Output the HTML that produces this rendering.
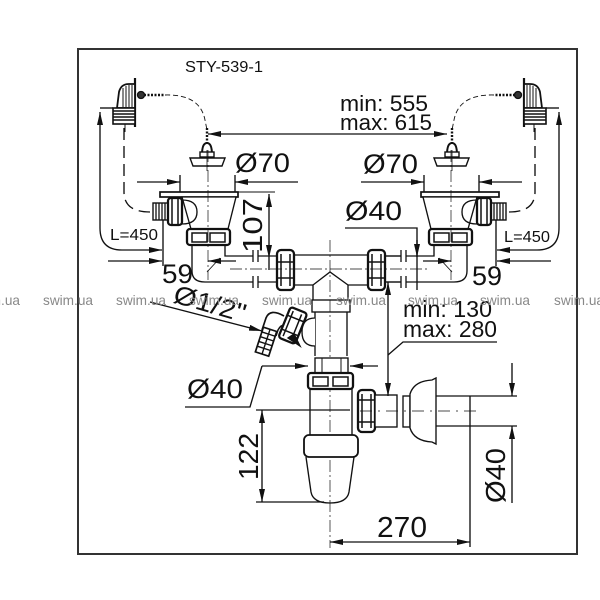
<!DOCTYPE html>
<html><head><meta charset="utf-8"><style>
html,body{margin:0;padding:0;background:#fff;width:600px;height:600px;overflow:hidden}
svg{position:absolute;left:0;top:0}
text{font-family:"Liberation Sans",Arial,sans-serif;fill:#111}
</style></head><body>
<svg width="600" height="600" viewBox="0 0 600 600" xmlns="http://www.w3.org/2000/svg">
<defs>
<marker id="a" viewBox="0 0 13 6" refX="13" refY="3" markerWidth="13" markerHeight="6" markerUnits="userSpaceOnUse" orient="auto-start-reverse"><path d="M0,0 L13,3 L0,6 z" fill="#111"/></marker>
<g id="L" fill="none" stroke="#111" stroke-width="1.35">
 <!-- overflow -->
 <line x1="135" y1="78" x2="135" y2="127" stroke-width="2.2"/>
 <path d="M117,108 L119,92 Q121,84 129,84 L135,84 L135,108 Z" fill="#fff" stroke-width="1.8"/>
 <path d="M123,88 V107 M126,86 V107 M129,85 V107 M132,85 V107" stroke-width="1"/>
 <rect x="113" y="108" width="22" height="16" fill="#fff" stroke-width="1.6"/>
 <path d="M113,111 H135 M113,114 H135 M113,117 H135 M113,120 H135" stroke-width="1.5"/>
 <line x1="100" y1="108" x2="113" y2="108"/>
 <line x1="125" y1="124" x2="125" y2="132" stroke-width="1"/>
 <circle cx="141" cy="95" r="3.5" fill="#333"/>
 <line x1="144" y1="95" x2="165" y2="95" stroke-width="2.6" stroke-dasharray="2,1.5"/>
 <path d="M165,95 Q200,94 205,120 L207,130" stroke-width="0.9" stroke-dasharray="5,3"/>
 <line x1="207" y1="128" x2="207" y2="143" stroke-width="2.4" stroke-dasharray="2,1.5"/>
 <path d="M202,155 Q202,143 207,143 Q212,143 212,155" stroke-width="2"/>
 <rect x="200" y="152" width="14" height="5" fill="#fff" stroke-width="1.4"/>
 <path d="M190,158 L225,158 L222,166 L193,166 Z" fill="#fff" stroke-width="1.4"/>
 <line x1="207" y1="150" x2="207" y2="171" stroke-width="0.8"/>
 <!-- overflow hose -->
 <path d="M124,128 L124,192 Q124,212 150,212" stroke-dasharray="12,6"/>
 <!-- L=450 -->
 <path d="M100,112 L100,228 Q100,250 122,250 L162,250" marker-start="url(#a)" marker-end="url(#a)"/>
 <!-- 59 -->
 <line x1="108" y1="261" x2="162" y2="261" marker-end="url(#a)"/>
 <line x1="163" y1="212" x2="163" y2="266"/>
 <line x1="236" y1="261" x2="208" y2="261" marker-end="url(#a)"/>
 <!-- Ø70 -->
 <line x1="137" y1="182" x2="180" y2="182" marker-end="url(#a)"/>
 <line x1="298" y1="182" x2="235" y2="182" marker-end="url(#a)"/>
 <line x1="180" y1="175" x2="180" y2="193"/>
 <line x1="235" y1="175" x2="235" y2="193"/>
 <!-- strainer -->
 <rect x="160" y="192" width="78" height="5" fill="#fff" stroke-width="1.7"/>
 <path d="M182,197 L236,197 L228,229 L191,229 Z" fill="#fff"/>
 <path d="M182,200 Q197,200 197,212 Q197,224 182,224"/>
 <rect x="153" y="203" width="15" height="17" fill="#fff" stroke-width="1.4"/>
 <path d="M156,203 V220 M159,203 V220 M162,203 V220 M165,203 V220" stroke-width="1.3"/>
 <rect x="168" y="198" width="14" height="27" rx="3" fill="#fff" stroke-width="2.3"/>
 <path d="M172,199 V224 M178,199 V224" stroke-width="1.5"/>
 <rect x="187" y="229" width="43" height="16" rx="3" fill="#fff" stroke-width="2.3"/>
 <path d="M192,233 H207 V242 H192 Z M210,233 H225 V242 H210 Z" stroke-width="1.5"/>
 <!-- drain elbow -->
 <path d="M192,245 L192,271 Q192,282 205,282 L253,282"/>
 <path d="M225,245 L225,256 L253,256"/>
 <path d="M208,150 V280" stroke-width="0.7" stroke-dasharray="12,3,2,3"/>
 <path d="M220,258 L207,272" stroke-width="0.9"/>
 <!-- break marks -->
 <path d="M253,250 V262 M258,250 V262 M253,276 V288 M258,276 V288" stroke-width="1.3"/>
 <path d="M258,256 H277 M258,282 H277"/>
</g>
</defs>

<rect x="78" y="49" width="499" height="505" fill="none" stroke="#333" stroke-width="2"/>

<use href="#L"/>
<use href="#L" transform="translate(659,0) scale(-1,1)"/>

<g fill="none" stroke="#111" stroke-width="1.35">
 <!-- min/max 555 line -->
 <line x1="208" y1="134" x2="447" y2="134" marker-start="url(#a)" marker-end="url(#a)"/>
 <!-- 107 -->
 <line x1="160" y1="192" x2="275" y2="192" stroke-width="0.9"/>
 <line x1="269" y1="194" x2="269" y2="258" marker-start="url(#a)" marker-end="url(#a)"/>
 <line x1="269" y1="258" x2="269" y2="270"/>
 <!-- right Ø40 leader -->
 <path d="M345,228 H417 V290"/>
 <line x1="417" y1="240" x2="417" y2="257" marker-end="url(#a)"/>
 <!-- tee -->
 <path d="M294,255 H368 M294,285 H313 M348,285 H368"/>
 <path d="M313,285 L330,272 L348,285 M313,285 V300 M348,285 V300"/>
 <rect x="312" y="300" width="38" height="12" fill="#fff"/>
 <path d="M315,312 V356 M347,312 V356"/>
 <path d="M315,318 Q302,318 302,332 Q302,346 315,346" fill="#fff"/>
 <rect x="277" y="250" width="17" height="40" rx="4" fill="#fff" stroke-width="2.3"/>
 <path d="M281,254 V286 M290,254 V286 M277,262 H294 M277,278 H294" stroke-width="1.5"/>
 <rect x="368" y="250" width="17" height="40" rx="4" fill="#fff" stroke-width="2.3"/>
 <path d="M372,254 V286 M381,254 V286 M368,262 H385 M368,278 H385" stroke-width="1.5"/>
 <path d="M385,256 H401 M385,282 H401"/>
 <path d="M230,269 H430" stroke-width="0.7" stroke-dasharray="12,3,2,3"/>
 <path d="M330,240 V548" stroke-width="0.7" stroke-dasharray="12,3,2,3"/>
 <!-- hose fitting -->
 <path d="M284,316 Q270,308 266,318 L262,330" stroke-width="1.7" fill="#fff"/>
 <path d="M292,326 Q282,322 278,330 L276,336" stroke-width="1.5"/>
 <g transform="rotate(18,267,342)">
  <rect x="259" y="329" width="14" height="26" fill="#fff" stroke-width="1.7"/>
  <path d="M259,334 H273 M259,339 H273 M259,344 H273 M259,349 H273 M266,329 V355" stroke-width="1.4"/>
 </g>
 <g transform="rotate(22,293,325)">
  <rect x="284" y="309" width="18" height="33" rx="3" fill="#fff" stroke-width="2.3"/>
  <path d="M288,312 V339 M297,312 V339 M284,318 H302 M284,333 H302" stroke-width="1.5"/>
 </g>
 <path d="M288,338 L300,346 L294,334 Z" fill="#111"/>
 <!-- siphon -->
 <rect x="315" y="358" width="33" height="15" fill="#fff"/>
 <path d="M322,358 V373 M341,358 V373" stroke-width="1"/>
 <rect x="308" y="373" width="45" height="16" rx="3" fill="#fff" stroke-width="2.3"/>
 <path d="M313,377 H328 V386 H313 Z M333,377 H348 V386 H333 Z" stroke-width="1.5"/>
 <path d="M310,389 L310,435 M352,389 L352,435"/>
 <rect x="304" y="435" width="54" height="22" rx="5" fill="#fff" stroke-width="1.8"/>
 <path d="M306,457 L311,492 Q313,503 330,503 Q347,503 349,492 L354,457"/>
 <rect x="358" y="390" width="17" height="42" rx="4" fill="#fff" stroke-width="2.3"/>
 <path d="M362,394 V428 M371,394 V428 M358,400 H375 M358,422 H375" stroke-width="1.5"/>
 <rect x="375" y="395" width="22" height="32" fill="#fff"/>
 <rect x="403" y="396" width="7" height="31" fill="#fff"/>
 <path d="M410,394 Q414,381 432,380 L436,378 L436,444 L432,442 Q414,441 410,428 Z" fill="#fff"/>
 <path d="M436,396 H517 M436,426 H517"/>
 <path d="M360,411 H480" stroke-width="0.7" stroke-dasharray="12,6,2,6"/>
 <!-- Ø40 left leader -->
 <path d="M185,407 H250 L262,366"/>
 <line x1="262" y1="366" x2="308" y2="366" marker-end="url(#a)"/>
 <line x1="378" y1="366" x2="350" y2="366" marker-end="url(#a)"/>
 <!-- 122 -->
 <path d="M256,410 H350 M256,502 H324"/>
 <line x1="262" y1="410" x2="262" y2="502" marker-start="url(#a)" marker-end="url(#a)"/>
 <!-- min 130 -->
 <line x1="388" y1="282" x2="388" y2="396" marker-start="url(#a)" marker-end="url(#a)"/>
 <path d="M388,355 L403,342 H497"/>
 <!-- right Ø40 -->
 <path d="M470,396 V547"/>
 <line x1="512" y1="363" x2="512" y2="396" marker-end="url(#a)"/>
 <line x1="512" y1="503" x2="512" y2="426" marker-end="url(#a)"/>
 <!-- 270 -->
 <line x1="330" y1="542" x2="470" y2="542" marker-start="url(#a)" marker-end="url(#a)"/>
 <!-- Ø1/2 leader -->
 <line x1="150" y1="302" x2="262" y2="331" marker-end="url(#a)"/>
</g>

<!-- labels -->
<text x="185" y="72" font-size="16" textLength="78" lengthAdjust="spacingAndGlyphs">STY-539-1</text>
<text x="340" y="111" font-size="22" textLength="88" lengthAdjust="spacingAndGlyphs">min: 555</text>
<text x="340" y="130" font-size="22" textLength="92" lengthAdjust="spacingAndGlyphs">max: 615</text>
<text x="235" y="172" font-size="27" textLength="55" lengthAdjust="spacingAndGlyphs">Ø70</text>
<text x="363" y="173" font-size="27" textLength="55" lengthAdjust="spacingAndGlyphs">Ø70</text>
<text x="345" y="220" font-size="27" textLength="57" lengthAdjust="spacingAndGlyphs">Ø40</text>
<text transform="translate(262,253) rotate(-90)" font-size="28" textLength="55" lengthAdjust="spacingAndGlyphs">107</text>
<text x="110" y="240" font-size="16" textLength="48" lengthAdjust="spacingAndGlyphs">L=450</text>
<text x="504" y="242" font-size="16" textLength="46" lengthAdjust="spacingAndGlyphs">L=450</text>
<text x="162" y="283" font-size="27" textLength="31" lengthAdjust="spacingAndGlyphs">59</text>
<text x="472" y="285" font-size="27" textLength="30" lengthAdjust="spacingAndGlyphs">59</text>
<text transform="translate(172,302) rotate(16)" font-size="26" textLength="74" lengthAdjust="spacingAndGlyphs">Ø1/2"</text>
<text x="187" y="398" font-size="27" textLength="56" lengthAdjust="spacingAndGlyphs">Ø40</text>
<text transform="translate(258,480) rotate(-90)" font-size="28" textLength="47" lengthAdjust="spacingAndGlyphs">122</text>
<text x="403" y="317" font-size="23" textLength="89" lengthAdjust="spacingAndGlyphs">min: 130</text>
<text x="403" y="337" font-size="23" textLength="94" lengthAdjust="spacingAndGlyphs">max: 280</text>
<text x="377" y="537" font-size="29" textLength="50" lengthAdjust="spacingAndGlyphs">270</text>
<text transform="translate(505,503) rotate(-90)" font-size="28" textLength="55" lengthAdjust="spacingAndGlyphs">Ø40</text>

<!-- watermark -->
<g font-size="14">
<text x="-30" y="305" style="fill:#888" textLength="50" lengthAdjust="spacingAndGlyphs">swim.ua</text>
<text x="43" y="305" style="fill:#888" textLength="50" lengthAdjust="spacingAndGlyphs">swim.ua</text>
<text x="116" y="305" style="fill:#888" textLength="50" lengthAdjust="spacingAndGlyphs">swim.ua</text>
<text x="189" y="305" style="fill:#888" textLength="50" lengthAdjust="spacingAndGlyphs">swim.ua</text>
<text x="262" y="305" style="fill:#888" textLength="50" lengthAdjust="spacingAndGlyphs">swim.ua</text>
<text x="336" y="305" style="fill:#888" textLength="50" lengthAdjust="spacingAndGlyphs">swim.ua</text>
<text x="408" y="305" style="fill:#888" textLength="50" lengthAdjust="spacingAndGlyphs">swim.ua</text>
<text x="480" y="305" style="fill:#888" textLength="50" lengthAdjust="spacingAndGlyphs">swim.ua</text>
<text x="554" y="305" style="fill:#888" textLength="50" lengthAdjust="spacingAndGlyphs">swim.ua</text>
</g>
</svg>
</body></html>
